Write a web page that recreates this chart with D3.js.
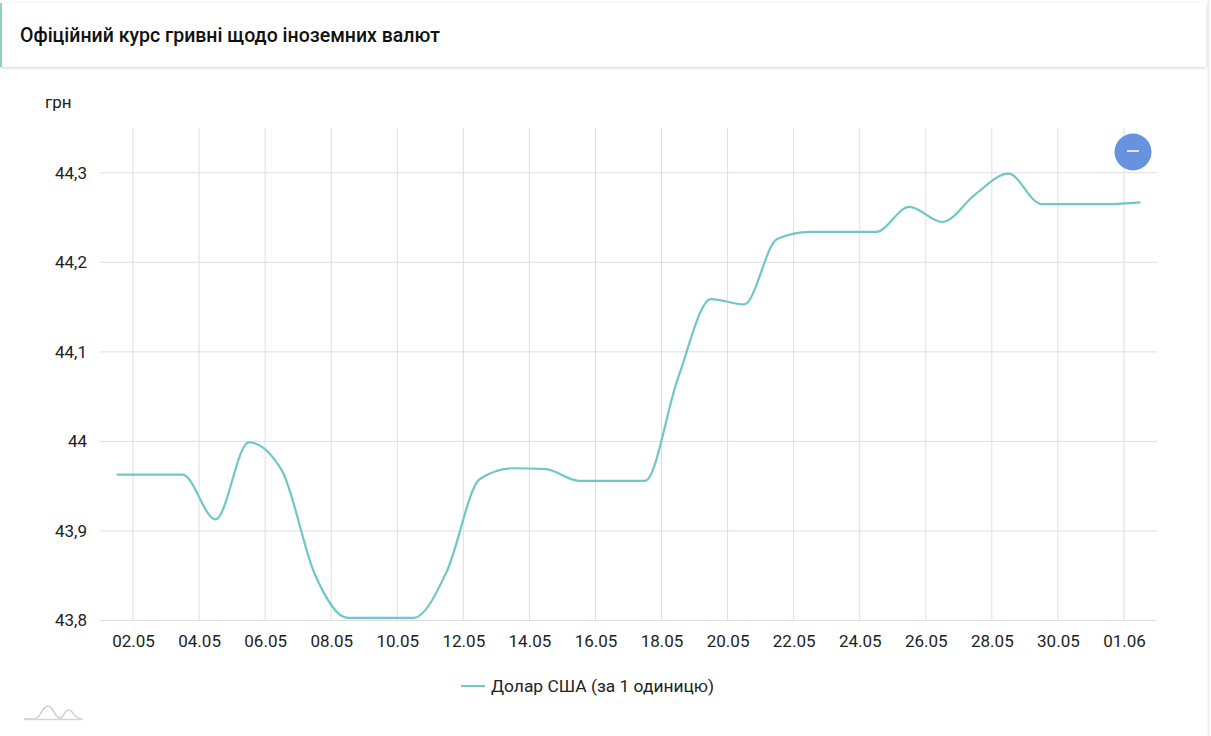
<!DOCTYPE html>
<html>
<head>
<meta charset="utf-8">
<script src="https://cdn.jsdelivr.net/npm/d3@7"></script>
<style>
  body { margin: 0; background: #fff; font-family: Roboto, "Noto Sans", sans-serif; }
  svg { display: block; }
</style>
</head>
<body>
<svg id="canvas" width="1211" height="736"></svg>
<script>
// days of the month shown on the chart
let dayLabels = ["01.05","02.05","03.05","04.05","05.05","06.05","07.05","08.05","09.05","10.05",
  "11.05","12.05","13.05","14.05","15.05","16.05","17.05","18.05","19.05","20.05",
  "21.05","22.05","23.05","24.05","25.05","26.05","27.05","28.05","29.05","30.05","31.05","01.06"]

// USD rate, UAH per 1 unit
let usdValues = [43.963, 43.963, 43.963, 43.913, 43.999, 43.968, 43.852, 43.803, 43.803, 43.803,
  43.855, 43.958, 43.970, 43.969, 43.956, 43.956, 43.956, 44.071, 44.159, 44.153,
  44.226, 44.234, 44.234, 44.234, 44.262, 44.245, 44.276, 44.299, 44.265, 44.265, 44.265, 44.267]

let yTicks = [43.8, 43.9, 44.0, 44.1, 44.2, 44.3]
let xTickLabels = ["02.05","04.05","06.05","08.05","10.05","12.05","14.05","16.05","18.05","20.05",
  "22.05","24.05","26.05","28.05","30.05","01.06"]

let title = "Офіційний курс гривні щодо іноземних валют"
let seriesName = "Долар США (за 1 одиницю)"
let yUnit = "грн"

let year = 2025
let parseDay = (s) => {
    let parts = s.split('.')
    return new Date(year, +parts[1] - 1, +parts[0])
}

let canvas = d3.select("#canvas")

// title card
let defs = canvas.append('defs')
let shadow = defs.append('filter').attr('id', 'shadow')
    .attr('x', '-5%').attr('y', '-20%').attr('width', '110%').attr('height', '150%')
shadow.append('feDropShadow')
    .attr('dx', 0).attr('dy', 1).attr('stdDeviation', 1.5)
    .attr('flood-color', '#000').attr('flood-opacity', 0.18)

canvas.append('line')
    .attr('x1', 1208.5).attr('x2', 1208.5).attr('y1', 0).attr('y2', 736)
    .attr('stroke', '#eeeeee').attr('stroke-width', 2)

canvas.append('rect')
    .attr('x', 0).attr('y', 3).attr('width', 1206).attr('height', 64)
    .attr('fill', '#fff').attr('filter', 'url(#shadow)')
canvas.append('rect')
    .attr('x', 0).attr('y', 3).attr('width', 2).attr('height', 64)
    .attr('fill', '#8fd3b6')
canvas.append('text')
    .attr('x', 20).attr('y', 41.5)
    .attr('font-size', 19.5).attr('font-weight', 500).attr('fill', '#111')
    .text(title)

// scales
let xScale = d3.scaleTime()
    .domain([new Date(year, 4, 1), new Date(year, 5, 2)])
    .range([100, 1157])
let yScale = d3.scaleLinear()
    .domain([43.8, 44.35])
    .range([620.5, 128])

// gridlines
let xTickDates = xTickLabels.map(parseDay)
canvas.append('g').selectAll('line')
    .data(xTickDates)
    .enter()
    .append('line')
    .attr('x1', (d) => xScale(d)).attr('x2', (d) => xScale(d))
    .attr('y1', 128).attr('y2', 620.5)
    .attr('stroke', '#dedede').attr('stroke-width', 1)

canvas.append('g').selectAll('line')
    .data(yTicks)
    .enter()
    .append('line')
    .attr('x1', 100).attr('x2', 1157)
    .attr('y1', (d) => yScale(d)).attr('y2', (d) => yScale(d))
    .attr('stroke', '#dedede').attr('stroke-width', 1)

// axes (labels only)
let xAxis = d3.axisBottom(xScale)
    .tickValues(xTickDates)
    .tickFormat(d3.timeFormat('%d.%m'))
    .tickSize(0).tickPadding(14)
let xG = canvas.append('g')
    .attr('transform', 'translate(0,620.5)')
    .call(xAxis)
xG.select('.domain').remove()
xG.selectAll('text').attr('font-size', 17).attr('font-family', 'Roboto').attr('fill', '#222')

let yAxis = d3.axisLeft(yScale)
    .tickValues(yTicks)
    .tickFormat((d) => d3.format('.1f')(d).replace('.0', '').replace('.', ','))
    .tickSize(0).tickPadding(13)
let yG = canvas.append('g')
    .attr('transform', 'translate(100,0)')
    .call(yAxis)
yG.select('.domain').remove()
yG.selectAll('text').attr('font-size', 17).attr('font-family', 'Roboto').attr('fill', '#222')

canvas.append('text')
    .attr('x', 45).attr('y', 108)
    .attr('font-size', 17).attr('fill', '#222')
    .text(yUnit)

// series
let points = dayLabels.map((d, i) => {
    let date = parseDay(d)
    date.setHours(12)
    return { date: date, value: usdValues[i] }
})

let line = d3.line()
    .x((d) => xScale(d.date))
    .y((d) => yScale(d.value))
    .curve(d3.curveMonotoneX)

canvas.append('path')
    .datum(points)
    .attr('d', line)
    .attr('fill', 'none')
    .attr('stroke', '#6fc7c7')
    .attr('stroke-width', 2.2)

// zoom-out button
canvas.append('circle')
    .attr('cx', 1133).attr('cy', 152).attr('r', 18.5)
    .attr('fill', '#6792de')
canvas.append('line')
    .attr('x1', 1127).attr('x2', 1139).attr('y1', 151).attr('y2', 151)
    .attr('stroke', '#fff').attr('stroke-width', 1.5)

// legend
canvas.append('line')
    .attr('x1', 461).attr('x2', 485).attr('y1', 686).attr('y2', 686)
    .attr('stroke', '#6fc7c7').attr('stroke-width', 2)
canvas.append('text')
    .attr('x', 491).attr('y', 692)
    .attr('font-size', 17.4).attr('fill', '#222')
    .text(seriesName)

// small logo, bottom left
canvas.append('path')
    .attr('d', 'M24,719 L35,719 C40,719 42,706 48,706 C53,706 55,718 60,718 C64,718 64,710 69,710 C73,710 74,719 82,719')
    .attr('fill', 'none').attr('stroke', '#cfcfcf').attr('stroke-width', 1.5)
canvas.append('line')
    .attr('x1', 24).attr('x2', 83).attr('y1', 719.5).attr('y2', 719.5)
    .attr('stroke', '#d5d5d5').attr('stroke-width', 1.5)
</script>
</body>
</html>
